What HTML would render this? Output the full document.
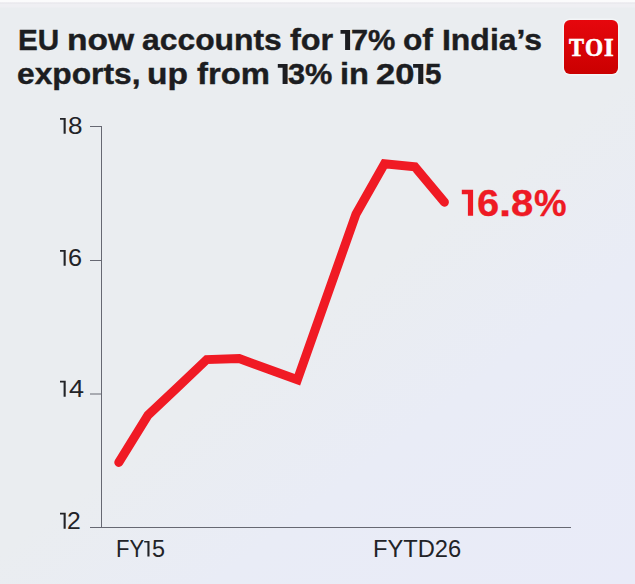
<!DOCTYPE html>
<html><head><meta charset="utf-8">
<style>
html,body{margin:0;padding:0;}
body{width:635px;height:584px;overflow:hidden;position:relative;background:linear-gradient(143deg,#eaedf0 0%,#eaedf0 52%,#e9ecf6 70%,#e9ebf8 100%);font-family:"Liberation Sans",sans-serif;}
.bgtop{position:absolute;left:0;top:0;width:635px;height:8px;background:linear-gradient(#fbfbfc 0px,#fbfbfc 1.5px,#e8e7ec 3px,#efeff3 4.5px,#efeff3 7px,rgba(234,237,240,0) 8px);}
span{position:absolute;white-space:nowrap;line-height:1;transform-origin:0 0;}
.w{color:#1c1d21;font-weight:bold;font-size:29px;-webkit-text-stroke:0.4px #1c1d21;}
.yl,.xl{color:#222327;font-size:23px;}
.val{color:#ee1a24;font-weight:bold;font-size:37px;-webkit-text-stroke:0.3px #ee1a24;}
.logo{position:absolute;left:564px;top:20px;width:54px;height:54px;border-radius:6px;background:linear-gradient(#e6070d,#cb0000);box-shadow:0 0 0 1.5px rgba(255,255,255,0.45);}
.toi{font-family:"Liberation Serif",serif;font-weight:bold;color:#fff;font-size:27px;-webkit-text-stroke:0.7px #fff;}
svg{position:absolute;left:0;top:0;}
</style></head>
<body>
<div class="bgtop"></div>
<div class="logo"></div>
<span class="toi" style="left:569.3px;top:34.7px;transform:scale(0.83,0.96)">T</span><span class="toi" style="left:584.6px;top:34.7px;transform:scale(0.86,0.96)">O</span><span class="toi" style="left:604.4px;top:34.7px;transform:scale(0.92,0.96)">I</span>
<svg width="635" height="584" viewBox="0 0 635 584">
  <g stroke="#666872" stroke-width="1" fill="none">
    <line x1="101.5" y1="126" x2="101.5" y2="528"/>
    <line x1="101" y1="527.5" x2="571" y2="527.5"/>
    <line x1="90" y1="126.5" x2="101" y2="126.5"/>
    <line x1="90" y1="260.5" x2="101" y2="260.5"/>
    <line x1="90" y1="394" x2="101" y2="394"/>
    <line x1="90" y1="527.5" x2="101" y2="527.5"/>
  </g>
  <polyline fill="none" stroke="#f01a24" stroke-width="9" stroke-linecap="round" stroke-linejoin="miter"
    points="118.8,462.4 148,415.1 177.9,387 206.7,359.6 239.2,358.6 297.4,379.8 356,214 384.5,163.7 414.9,166.8 444.4,202.2"/>
</svg>
<span class="w" style="left:18.0px;top:26.0px;transform:scaleX(1.022)">EU</span>
<span class="w" style="left:67.2px;top:26.0px;transform:scaleX(1.157)">now</span>
<span class="w" style="left:142.4px;top:26.0px;transform:scaleX(1.098)">accounts</span>
<span class="w" style="left:289.8px;top:26.0px;transform:scaleX(1.118)">for</span>
<span class="w" style="left:351.0px;top:26.0px;transform:scaleX(1.060)">7%</span>
<span class="w" style="left:403.3px;top:26.0px;transform:scaleX(1.093)">of</span>
<span class="w" style="left:441.9px;top:26.0px;transform:scaleX(1.101)">India’s</span>
<span class="w" style="left:17.0px;top:60.0px;transform:scaleX(1.095)">exports,</span>
<span class="w" style="left:147.3px;top:60.0px;transform:scaleX(1.156)">up</span>
<span class="w" style="left:197.1px;top:60.0px;transform:scaleX(1.130)">from</span>
<span class="w" style="left:288.0px;top:60.0px;transform:scaleX(1.060)">3%</span>
<span class="w" style="left:339.5px;top:60.0px;transform:scaleX(1.123)">in</span>
<span class="w" style="left:376.2px;top:60.0px;transform:scaleX(1.190)">20</span>
<span class="w" style="left:424.6px;top:60.0px;transform:scaleX(1.020)">5</span>
<span class="yl" style="left:68.1px;top:115.4px;transform:scaleX(1.136)">8</span>
<span class="yl" style="left:68.1px;top:247.4px;transform:scaleX(1.100)">6</span>
<span class="yl" style="left:68.8px;top:378.3px;transform:scaleX(1.175)">4</span>
<span class="yl" style="left:67.4px;top:510.3px;transform:scaleX(1.073)">2</span>
<span class="xl" style="left:115.6px;top:538.2px;transform:scaleX(0.959)">FY</span>
<span class="xl" style="left:152.0px;top:538.2px;transform:scaleX(1.018)">5</span>
<span class="xl" style="left:372.7px;top:538.2px;transform:scaleX(1.030)">FYTD26</span>
<span class="val" style="left:477.2px;top:184.7px;transform:scaleX(1.078)">6</span>
<span class="val" style="left:498.6px;top:184.7px;transform:scaleX(1.183)">.</span>
<span class="val" style="left:510.9px;top:184.7px;transform:scaleX(1.084)">8</span>
<span class="val" style="left:533.7px;top:184.7px;transform:scaleX(0.990)">%</span>
<svg width="635" height="584" viewBox="0 0 635 584">
<path d="M350.1,30.0 L350.1,50.0 L345.1,50.0 L345.1,33.8 L340.5,33.8 L340.5,30.0 Z" fill="#1c1d21"/>
<path d="M287.6,64.0 L287.6,84.0 L282.6,84.0 L282.6,67.8 L277.8,67.8 L277.8,64.0 Z" fill="#1c1d21"/>
<path d="M423.3,64.0 L423.3,84.0 L418.2,84.0 L418.2,67.8 L413.1,67.8 L413.1,64.0 Z" fill="#1c1d21"/>
<path d="M65.7,118.0 L65.7,133.8 L63.6,133.8 L63.6,119.7 L60.0,119.7 L60.0,118.0 Z" fill="#222327"/>
<path d="M65.7,250.0 L65.7,265.7 L63.6,265.7 L63.6,251.7 L60.0,251.7 L60.0,250.0 Z" fill="#222327"/>
<path d="M65.7,380.8 L65.7,396.8 L63.6,396.8 L63.6,382.5 L60.0,382.5 L60.0,380.8 Z" fill="#222327"/>
<path d="M65.7,512.8 L65.7,528.8 L63.6,528.8 L63.6,514.5 L60.0,514.5 L60.0,512.8 Z" fill="#222327"/>
<path d="M149.5,540.9 L149.5,556.5 L147.4,556.5 L147.4,542.6 L144.2,542.6 L144.2,540.9 Z" fill="#222327"/>
<path d="M473.1,189.7 L473.1,215.7 L467.9,215.7 L467.9,194.3 L461.8,194.3 L461.8,189.7 Z" fill="#ee1a24"/>
</svg>

</body></html>
